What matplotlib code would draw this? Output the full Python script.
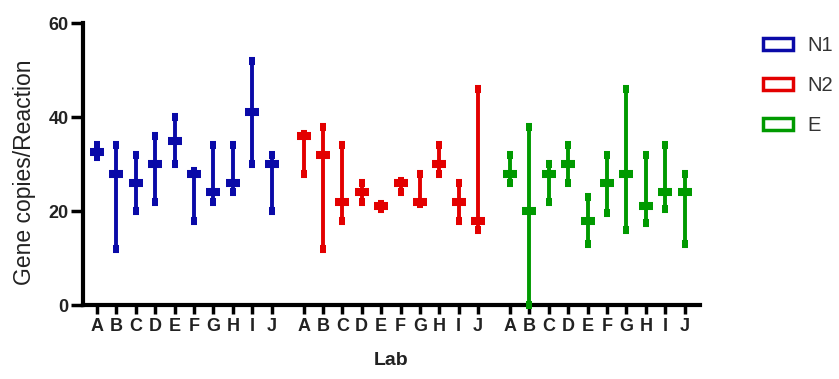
import matplotlib.pyplot as plt
import numpy as np
from matplotlib.patches import Patch

plt.rcParams['font.family'] = ['Liberation Sans', 'DejaVu Sans']

labs = ['A', 'B', 'C', 'D', 'E', 'F', 'G', 'H', 'I', 'J']
targets = ['N1', 'N2', 'E']
colors = ['#0a0aa8', '#e30000', '#009a00']

# median, min, max per lab (gene copies / reaction)
n1_med = [32.5, 28, 26, 30, 35, 28, 24, 26, 41, 30]
n1_lo = [31.5, 12, 20, 22, 30, 18, 22, 24, 30, 20]
n1_hi = [34, 34, 32, 36, 40, 28.5, 34, 34, 52, 32]

n2_med = [36, 32, 22, 24, 21, 26, 22, 30, 22, 18]
n2_lo = [28, 12, 18, 22, 20.5, 24, 21.5, 28, 18, 16]
n2_hi = [36.5, 38, 34, 26, 21.5, 26.5, 28, 34, 26, 46]

e_med = [28, 20, 28, 30, 18, 26, 28, 21, 24, 24]
e_lo = [26, 0, 22, 26, 13, 19.5, 16, 17.5, 20.5, 13]
e_hi = [32, 38, 30, 34, 23, 32, 46, 32, 34, 28]

meds = [n1_med, n2_med, e_med]
los = [n1_lo, n2_lo, e_lo]
his = [n1_hi, n2_hi, e_hi]

fig = plt.figure(figsize=(8.39, 3.79), dpi=100)
ax = fig.add_axes([0.099, 0.195, 0.735, 0.744])

group_step = 10.65
ticks = []
ticklabels = []
for g in range(3):
    x = np.arange(10) + g * group_step
    med = np.array(meds[g])
    lo = np.array(los[g])
    hi = np.array(his[g])
    ax.errorbar(x, med, yerr=[med - lo, hi - med], fmt='_', color=colors[g],
                ecolor=colors[g], elinewidth=2.8, capsize=2.5, capthick=2.2,
                markersize=9.4, markeredgewidth=5.8, clip_on=False, zorder=3)
    ticks += list(x)
    ticklabels += labs

ax.set_xlim(-0.72, 9 + 2 * group_step + 0.78)
ax.set_ylim(0, 60)
ax.set_yticks([0, 20, 40, 60])
ax.set_xticks(ticks)
ax.set_xticklabels(ticklabels)

for s in ['top', 'right']:
    ax.spines[s].set_visible(False)
for s in ['left', 'bottom']:
    ax.spines[s].set_linewidth(3)
ax.tick_params(axis='y', length=8.5, width=2.5, labelsize=13, pad=2)
ax.tick_params(axis='x', length=6.5, width=2.5, labelsize=13, pad=3)
for lbl in ax.get_xticklabels() + ax.get_yticklabels():
    lbl.set_fontweight('bold')
    lbl.set_color('#222222')

ax.set_ylabel('Gene copies/Reaction', fontsize=16.5, color='#222222')
ax.yaxis.set_label_coords(-0.076, 0.47)
ax.set_xlabel('Lab', fontsize=14, fontweight='bold', color='#222222', labelpad=12)

handles = [Patch(facecolor='white', edgecolor=c, linewidth=2.5) for c in colors]
fig.legend(handles, targets, loc='upper left', bbox_to_anchor=(0.888, 0.953),
           frameon=False, fontsize=14.5, handlelength=1.5, handleheight=0.55,
           labelspacing=1.05, handletextpad=0.7, labelcolor='#333333')

fig.savefig('out.png', dpi=100)
